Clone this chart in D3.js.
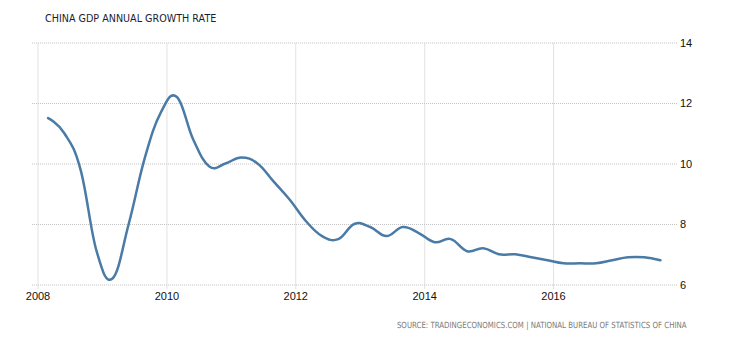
<!DOCTYPE html>
<html>
<head>
<meta charset="utf-8">
<script src="https://cdn.jsdelivr.net/npm/d3@7"></script>
<style>
  html, body { margin: 0; padding: 0; background: #fff; }
  svg { display: block; }
</style>
</head>
<body>
<svg id="chart" width="730" height="340"></svg>
<script>
// China GDP, year-on-year growth by quarter (%)
const quarters = [
  "2008Q1","2008Q2","2008Q3","2008Q4",
  "2009Q1","2009Q2","2009Q3","2009Q4",
  "2010Q1","2010Q2","2010Q3","2010Q4",
  "2011Q1","2011Q2","2011Q3","2011Q4",
  "2012Q1","2012Q2","2012Q3","2012Q4",
  "2013Q1","2013Q2","2013Q3","2013Q4",
  "2014Q1","2014Q2","2014Q3","2014Q4",
  "2015Q1","2015Q2","2015Q3","2015Q4",
  "2016Q1","2016Q2","2016Q3","2016Q4",
  "2017Q1","2017Q2","2017Q3"
];
const growth = [
  11.5, 11.0, 9.8, 7.1,
  6.2, 8.0, 10.2, 11.7,
  12.2, 10.8, 9.9, 10.0,
  10.2, 10.0, 9.4, 8.8,
  8.1, 7.6, 7.5, 8.0,
  7.9, 7.6, 7.9, 7.7,
  7.4, 7.5, 7.1, 7.2,
  7.0, 7.0, 6.9, 6.8,
  6.7, 6.7, 6.7, 6.8,
  6.9, 6.9, 6.8
];
const yTicks = [6, 8, 10, 12, 14];
const xTickYears = [2008, 2010, 2012, 2014, 2016];
const titleText = "CHINA GDP ANNUAL GROWTH RATE";
const sourceText = "SOURCE: TRADINGECONOMICS.COM | NATIONAL BUREAU OF STATISTICS OF CHINA";

// each quarter is plotted at the start of its last month
const parseQuarter = q => new Date(+q.slice(0, 4), (+q.slice(5)) * 3 - 1, 1);
const points = quarters.map((q, i) => ({ date: parseQuarter(q), value: growth[i] }));

const plot = { left: 32, right: 677, top: 42.5, bottom: 284.5 };

const svg = d3.select("#chart");

const x = d3.scaleTime()
  .domain([new Date(2008, 0, 1), new Date(2016, 0, 1)])
  .range([37.5, 553]);

const y = d3.scaleLinear()
  .domain([6, 14])
  .range([plot.bottom, plot.top]);

const gridColor = "#c4c4c4";
const labelFont = "'Liberation Sans', Arial, sans-serif";
const captionFont = "'DejaVu Sans', Tahoma, sans-serif";

// vertical grid + year labels
const xAxis = svg.append("g")
  .attr("transform", `translate(0,${plot.bottom + 4})`)
  .call(d3.axisBottom(x)
    .tickValues(xTickYears.map(yr => new Date(yr, 0, 1)))
    .tickFormat(d3.timeFormat("%Y"))
    .tickSize(-(plot.bottom + 4 - plot.top))
    .tickPadding(4));
xAxis.select(".domain").remove();
xAxis.selectAll(".tick line")
  .attr("stroke", gridColor)
  .attr("stroke-dasharray", "1,1");
xAxis.selectAll(".tick text")
  .attr("font-family", labelFont)
  .attr("font-size", "11px")
  .attr("fill", "#111");

// horizontal grid + value labels on the right
const yAxis = svg.append("g")
  .attr("transform", `translate(${plot.right},0)`)
  .call(d3.axisRight(y)
    .tickValues(yTicks)
    .tickFormat(d3.format("d"))
    .tickSize(-(plot.right - plot.left))
    .tickPadding(3));
yAxis.select(".domain").remove();
yAxis.selectAll(".tick line")
  .attr("stroke", gridColor)
  .attr("stroke-dasharray", "1,1");
yAxis.selectAll(".tick text")
  .attr("font-family", labelFont)
  .attr("font-size", "11px")
  .attr("fill", "#111");

// growth line, smoothed spline
const line = d3.line()
  .x(d => x(d.date))
  .y(d => y(d.value))
  .curve(d3.curveCardinal.tension(-0.2));

svg.append("path")
  .datum(points)
  .attr("fill", "none")
  .attr("stroke", "#4a7ba7")
  .attr("stroke-width", 2.5)
  .attr("stroke-linejoin", "round")
  .attr("stroke-linecap", "round")
  .attr("d", line);

// condensed caption: horizontally squeeze a text to a target width
function condensedText(str, ax, ay, anchor, size, color, width) {
  const g = svg.append("g").attr("transform", `translate(${ax},${ay})`);
  const t = g.append("text")
    .attr("text-anchor", anchor)
    .attr("font-family", captionFont)
    .attr("font-size", size)
    .attr("fill", color)
    .text(str);
  const natural = t.node().getComputedTextLength();
  t.attr("transform", `scale(${Math.min(1, width / natural)},1)`);
  return t;
}

// title
condensedText(titleText, 45, 21.5, "start", "11px", "#1c1c30", 171.5);

// source line
condensedText(sourceText, 686.5, 327.5, "end", "8.5px", "#7a7a7a", 290);
</script>
</body>
</html>
